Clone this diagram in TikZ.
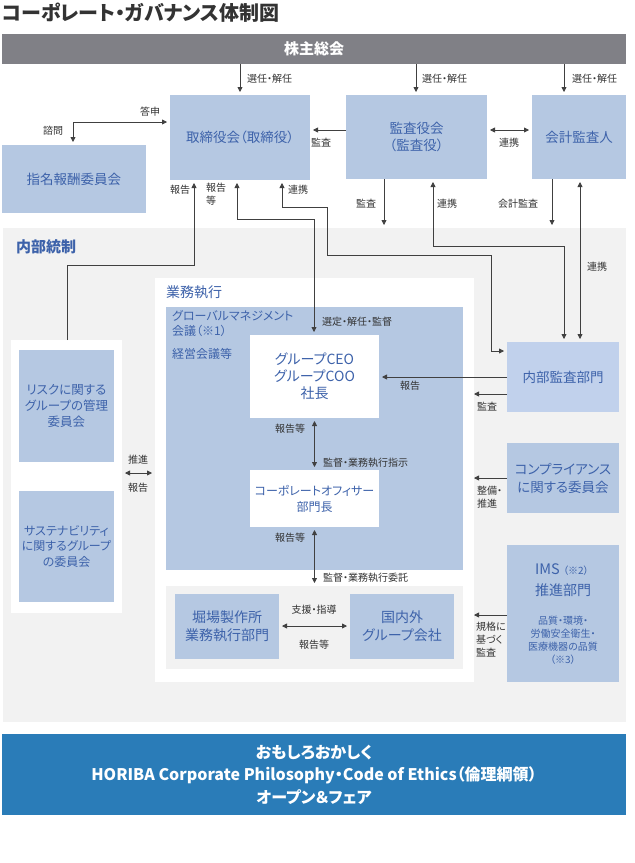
\documentclass[tikz,border=0pt]{standalone}
\usepackage{fontspec}
\setmainfont{Noto Sans CJK JP}[RawFeature={+palt}]
\usetikzlibrary{arrows.meta}
\definecolor{boxblue}{RGB}{181,200,226}
\definecolor{boxblueL}{RGB}{193,209,236}
\definecolor{boxtxt}{RGB}{61,98,170}
\definecolor{lbltxt}{RGB}{51,51,51}
\definecolor{linec}{RGB}{64,64,64}
\definecolor{bargray}{RGB}{128,128,134}
\definecolor{areagray}{RGB}{242,242,242}
\definecolor{botblue}{RGB}{42,124,184}
\definecolor{titlec}{RGB}{51,51,51}
\begin{document}
\begin{tikzpicture}[x=1pt,y=-1pt,
  box/.style={fill=boxblue,text=boxtxt,font=\fontsize{13.5}{17}\selectfont,align=center,inner sep=0pt,outer sep=0pt,anchor=north west},
  panel/.style={inner sep=0pt,outer sep=0pt,anchor=north west},
  lbl/.style={font=\fontsize{10}{13}\selectfont,text=lbltxt,inner sep=0pt,align=left},
  hd/.style={text=boxtxt,inner sep=0pt,anchor=west},
  arr/.style={draw=linec,line width=0.8pt,shorten >=3pt,-{Triangle[length=5pt,width=5pt]}},
  darr/.style={draw=linec,line width=0.8pt,shorten >=3pt,shorten <=3pt,{Triangle[length=5pt,width=5pt]}-{Triangle[length=5pt,width=5pt]}},
]
\fill[white] (0,0) rectangle (635,863);
\useasboundingbox (0,0) rectangle (635,863);

% title
\node[anchor=west,inner sep=0pt,text=titlec,font=\fontsize{20}{21}\selectfont\bfseries] (title) at (2,13) {コーポレート・ガバナンス体制図};

% shareholders bar
\node[panel,fill=bargray,minimum width=624pt,minimum height=30pt,text=white,font=\fontsize{15}{16}\selectfont\bfseries] (sh) at (2,34) {株主総会};

% top boxes
\node[box,minimum width=140pt,minimum height=85pt] (tb) at (170,95) {取締役会（取締役）};
\node[box,minimum width=141pt,minimum height=84pt] (ka) at (346,95) {監査役会\\（監査役）};
\node[box,minimum width=94pt,minimum height=84pt] (kk) at (532,95) {会計監査人};
\node[box,minimum width=144pt,minimum height=68pt] (nh) at (2,145) {指名報酬委員会};

% internal control area
\node[panel,fill=areagray,minimum width=623pt,minimum height=494pt] (ic) at (3,228) {};
\node[hd,font=\fontsize{15}{16}\selectfont\bfseries] (icL) at (16,247) {内部統制};

% business execution
\node[panel,fill=white,minimum width=319pt,minimum height=404pt] (ge) at (155,278) {};
\node[hd,font=\fontsize{14}{15}\selectfont] (geL) at (166,292) {業務執行};
\node[panel,fill=boxblue,minimum width=297pt,minimum height=263pt] (gm) at (166,307) {};
\node[hd,anchor=north west,align=left,font=\fontsize{12}{15}\selectfont] (gmL) at (172,310) {グローバルマネジメント\\会議（※1）};
\node[hd,font=\fontsize{12}{14}\selectfont] (gmL2) at (172,354) {経営会議等};
\node[box,fill=white,minimum width=129pt,minimum height=83pt,font=\fontsize{14}{17}\selectfont] (ceo) at (250,335) {グループCEO\\グループCOO\\社長};
\node[box,fill=white,minimum width=129pt,minimum height=57pt,font=\fontsize{12}{16}\selectfont] (co) at (250,470) {コーポレートオフィサー\\部門長};
\node[panel,fill=areagray,minimum width=297pt,minimum height=83pt] (lg) at (166,586) {};
\node[box,minimum width=104pt,minimum height=65pt,font=\fontsize{14}{18}\selectfont] (hs) at (175,594) {堀場製作所\\業務執行部門};
\node[box,minimum width=104pt,minimum height=65pt,font=\fontsize{14}{18}\selectfont] (kg) at (350,594) {国内外\\グループ会社};

% left committees
\node[panel,fill=white,minimum width=111pt,minimum height=273pt] (lw) at (11,340) {};
\node[box,minimum width=95pt,minimum height=112pt,font=\fontsize{12.5}{16}\selectfont] (risk) at (19,350) {リスクに関する\\グループの管理\\委員会};
\node[box,minimum width=95pt,minimum height=111pt,font=\fontsize{12}{15.5}\selectfont] (sus) at (19,491) {サステナビリティ\\に関するグループ\\の委員会};

% right boxes
\node[box,fill=boxblueL,minimum width=112pt,minimum height=70pt] (nb) at (507,342) {内部監査部門};
\node[box,minimum width=112pt,minimum height=70pt,font=\fontsize{13.5}{18}\selectfont] (cp) at (507,443) {コンプライアンス\\に関する委員会};
\node[box,minimum width=112pt,minimum height=137pt] (ims) at (507,545) {};
\node[text=boxtxt,inner sep=0pt,anchor=base east,font=\fontsize{14.5}{15}\selectfont] (imsT1) at (560,574) {IMS};
\node[text=boxtxt,inner sep=0pt,anchor=base west,font=\fontsize{10}{10}\selectfont] (imsT2) at (563,574) {（※2）};
\node[text=boxtxt,inner sep=0pt,font=\fontsize{14}{15}\selectfont] (imsB) at (563,590) {推進部門};
\node[text=boxtxt,inner sep=0pt,align=center,font=\fontsize{10}{13}\selectfont] (imsS) at (563,640) {品質・環境・\\労働安全衛生・\\医療機器の品質\\（※3）};

% bottom bar
\node[panel,fill=botblue,minimum width=624pt,minimum height=81pt,text=white,align=center,font=\fontsize{16}{22.5}\selectfont\bfseries] (phil) at (2,734) {おもしろおかしく\\HORIBA Corporate Philosophy・Code of Ethics（倫理綱領）\\オープン＆フェア};

% free ends
\coordinate (kaE) at (384,228);
\coordinate (kkE) at (552,228);
\coordinate (e1) at (471,394);
\coordinate (e2) at (471,478);
\coordinate (e3) at (471,615);

% connectors
\draw[arr] (sh.south -| tb) -- (tb.north);
\draw[arr] (sh.south -| 416,0) -- (ka.north -| 416,0);
\draw[arr] (sh.south -| 564,0) -- (kk.north -| 564,0);
\node[lbl,anchor=west] (l1) at (247,79) {選任・解任};
\node[lbl,anchor=west] (l2) at (422,79) {選任・解任};
\node[lbl,anchor=west] (l3) at (572,79) {選任・解任};

\draw[darr] (nh.north -| 73,0) |- (tb.west |- 0,122);
\node[lbl] (l4) at (150,112) {答申};
\node[lbl] (l5) at (53,131) {諮問};

\draw[arr] (ka.west |- 0,130) -- (tb.east |- 0,130);
\node[lbl] (l6) at (321,143) {監査};
\draw[darr] (ka.east |- 0,130) -- (kk.west |- 0,130);
\node[lbl] (l7) at (509,143) {連携};

\draw[arr] (lw.north -| 67,0) |- (194,265) -- (tb.south -| 194,0);
\node[lbl] (l8) at (180,190) {報告};
\draw[darr] (tb.south -| 237,0) |- (314,219) -- (ceo.north -| 314,0);
\node[lbl,anchor=north west] (l9) at (206,183) {報告\\等};
\node[lbl,anchor=west] (l10) at (322,322) {選定・解任・監督};
\draw[darr] (tb.south -| 282,0) |- (327,207) |- (491,255) |- (nb.west |- 0,351);
\node[lbl] (l11) at (298,190) {連携};

\draw[arr] (ka.south -| kaE) -- (kaE);
\node[lbl] (l12) at (366,204) {監査};
\draw[darr] (ka.south -| 433,0) |- (564,246) -- (nb.north -| 564,0);
\node[lbl] (l13) at (447,204) {連携};
\draw[arr] (kk.south -| kkE) -- (kkE);
\node[lbl] (l14) at (518,204) {会計監査};
\draw[darr] (kk.south -| 580,0) -- (nb.north -| 580,0);
\node[lbl] (l15) at (597,267) {連携};

\draw[arr] (nb.west |- 0,377) -- (ceo.east |- 0,377);
\node[lbl] (l16) at (410,386) {報告};
\draw[arr] (nb.west |- e1) -- (e1);
\node[lbl] (l17) at (487,407) {監査};
\draw[arr] (cp.west |- e2) -- (e2);
\node[lbl,anchor=north west] (l18) at (477,486) {整備・\\推進};
\draw[arr] (ims.west |- e3) -- (e3);
\node[lbl,anchor=north west] (l19) at (476,622) {規格に\\基づく\\監査};

\draw[darr] (ceo.south) -- (co.north);
\node[lbl] (l20) at (290,429) {報告等};
\node[lbl,anchor=west] (l21) at (323,463) {監督・業務執行指示};
\draw[darr] (co.south) -- (lg.north -| co);
\node[lbl] (l22) at (290,538) {報告等};
\node[lbl,anchor=west] (l23) at (323,578) {監督・業務執行委託};

\draw[darr] (hs.east |- 0,626) -- (kg.west |- 0,626);
\node[lbl] (l24) at (314,610) {支援・指導};
\node[lbl] (l25) at (314,645) {報告等};

\draw[darr] (lw.east |- 0,473) -- (ge.west |- 0,473);
\node[lbl] (l26) at (138,460) {推進};
\node[lbl] (l27) at (138,488) {報告};
\end{tikzpicture}
\end{document}
